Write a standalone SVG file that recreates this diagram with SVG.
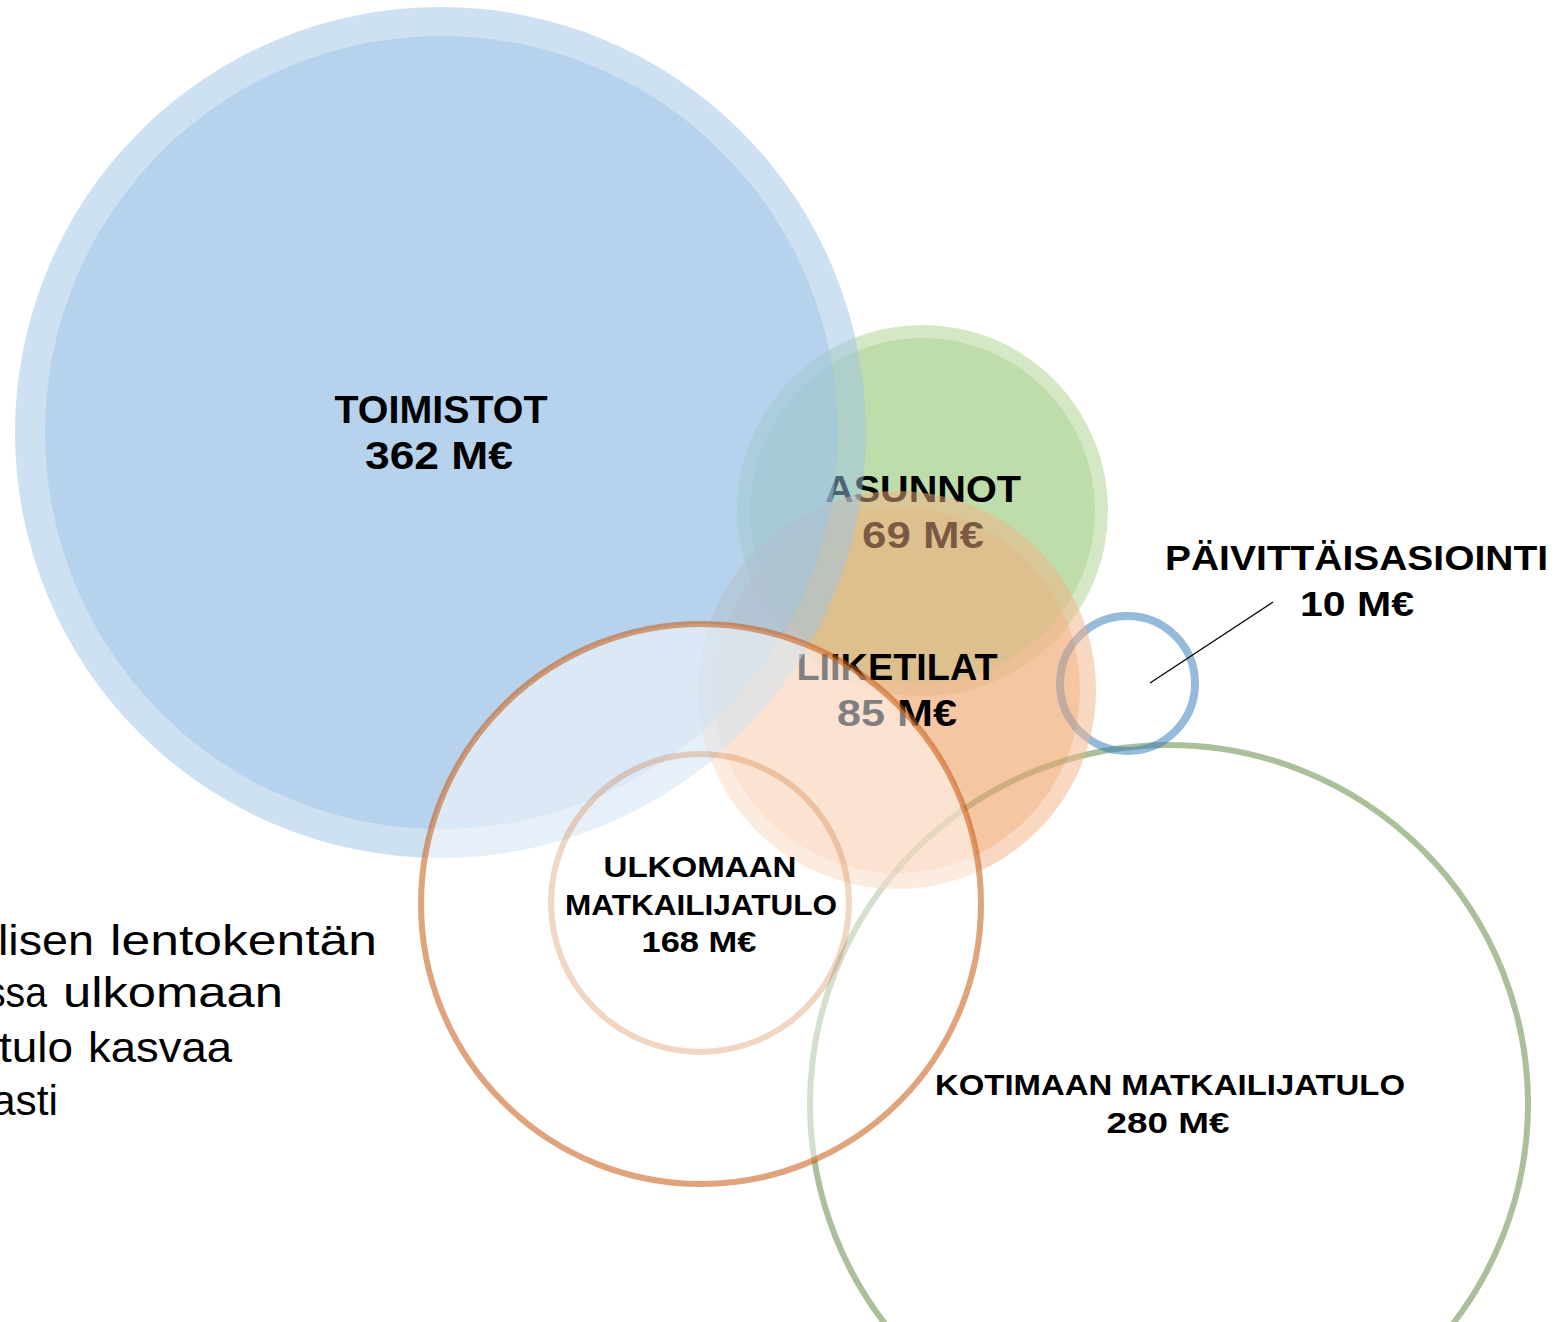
<svg xmlns="http://www.w3.org/2000/svg" width="1555" height="1322" viewBox="0 0 1555 1322">
<style>
.lbl{font-family:"Liberation Sans",Arial,sans-serif;font-weight:bold;fill:#000;text-anchor:middle}
.body{font-family:"Liberation Sans",Arial,sans-serif;font-size:42px;fill:#000}
.blue{fill:#9dc3e6;fill-opacity:0.5}
.green{fill:#a9d18e;fill-opacity:0.5}
.orange{fill:#f4b183;fill-opacity:0.5}
</style>
<rect width="1555" height="1322" fill="#fff"/>

<g id="halos">
  <circle class="green" cx="922.5" cy="510.5" r="185.5"/>
  <circle class="orange" cx="897" cy="690" r="183"/>
</g>

<g id="kotimaan">
  <circle cx="1169" cy="1104" r="359" fill="none" stroke="#548235" stroke-opacity="0.5" stroke-width="6"/>
</g>

<g id="paivittaisasiointi">
  <circle cx="1127.5" cy="683.5" r="67.5" fill="none" stroke="#2e75b6" stroke-opacity="0.5" stroke-width="8"/>
</g>

<g id="asunnot">
  <circle class="green" cx="922.5" cy="510.5" r="172.5"/>
  <text class="lbl" font-size="36" x="923" y="502" textLength="196" lengthAdjust="spacingAndGlyphs">ASUNNOT</text>
  <text class="lbl" font-size="36" x="923" y="548" textLength="122" lengthAdjust="spacingAndGlyphs">69 M€</text>
</g>

<g id="liiketilat">
  <circle class="orange" cx="897" cy="690" r="199"/>
  <text class="lbl" font-size="36" x="897" y="680" textLength="201" lengthAdjust="spacingAndGlyphs">LIIKETILAT</text>
  <text class="lbl" font-size="36" x="897" y="726" textLength="120" lengthAdjust="spacingAndGlyphs">85 M€</text>
</g>

<g id="toimistot">
  <circle class="blue" cx="440.5" cy="432.5" r="425.5"/>
  <circle class="blue" cx="441.5" cy="432.5" r="396.5"/>
  <text class="lbl" font-size="39" x="441" y="423" textLength="213" lengthAdjust="spacingAndGlyphs">TOIMISTOT</text>
  <text class="lbl" font-size="39" x="439" y="469" textLength="148" lengthAdjust="spacingAndGlyphs">362 M€</text>
</g>

<g id="ulkomaan">
  <circle cx="701" cy="904" r="280" fill="#fff" fill-opacity="0.5" stroke="#c55a11" stroke-opacity="0.55" stroke-width="6"/>
  <circle cx="700" cy="903" r="149" fill="none" stroke="#c55a11" stroke-opacity="0.25" stroke-width="6"/>
  <text class="lbl" font-size="30" x="700" y="877" textLength="193" lengthAdjust="spacingAndGlyphs">ULKOMAAN</text>
  <text class="lbl" font-size="30" x="701" y="915" textLength="272" lengthAdjust="spacingAndGlyphs">MATKAILIJATULO</text>
  <text class="lbl" font-size="30" x="699" y="952" textLength="115" lengthAdjust="spacingAndGlyphs">168 M€</text>
</g>

<g id="kotimaan-label">
  <text class="lbl" font-size="30" x="1170" y="1095" textLength="470" lengthAdjust="spacingAndGlyphs">KOTIMAAN MATKAILIJATULO</text>
  <text class="lbl" font-size="30" x="1168" y="1133" textLength="123" lengthAdjust="spacingAndGlyphs">280 M€</text>
</g>

<g id="paivittaisasiointi-label">
  <text class="lbl" font-size="35" x="1356.5" y="570" textLength="383" lengthAdjust="spacingAndGlyphs">PÄIVITTÄISASIOINTI</text>
  <text class="lbl" font-size="35" x="1357" y="616" textLength="114" lengthAdjust="spacingAndGlyphs">10 M€</text>
</g>

<g id="connectors">
  <line x1="1150" y1="683" x2="1273" y2="602" stroke="#000" stroke-width="1.3"/>
</g>

<g id="body-text">
  <text class="body" y="955"><tspan x="-2" textLength="96" lengthAdjust="spacingAndGlyphs">lisen</tspan><tspan x="110" textLength="267" lengthAdjust="spacingAndGlyphs">lentokentän</tspan></text>
  <text class="body" y="1007"><tspan x="-14" textLength="61" lengthAdjust="spacingAndGlyphs">ssa</tspan><tspan x="63" textLength="220" lengthAdjust="spacingAndGlyphs">ulkomaan</tspan></text>
  <text class="body" y="1062"><tspan x="-1" textLength="74" lengthAdjust="spacingAndGlyphs">tulo</tspan><tspan x="88" textLength="144" lengthAdjust="spacingAndGlyphs">kasvaa</tspan></text>
  <text class="body" x="-8" y="1115" textLength="66" lengthAdjust="spacingAndGlyphs">asti</text>
</g>
</svg>
